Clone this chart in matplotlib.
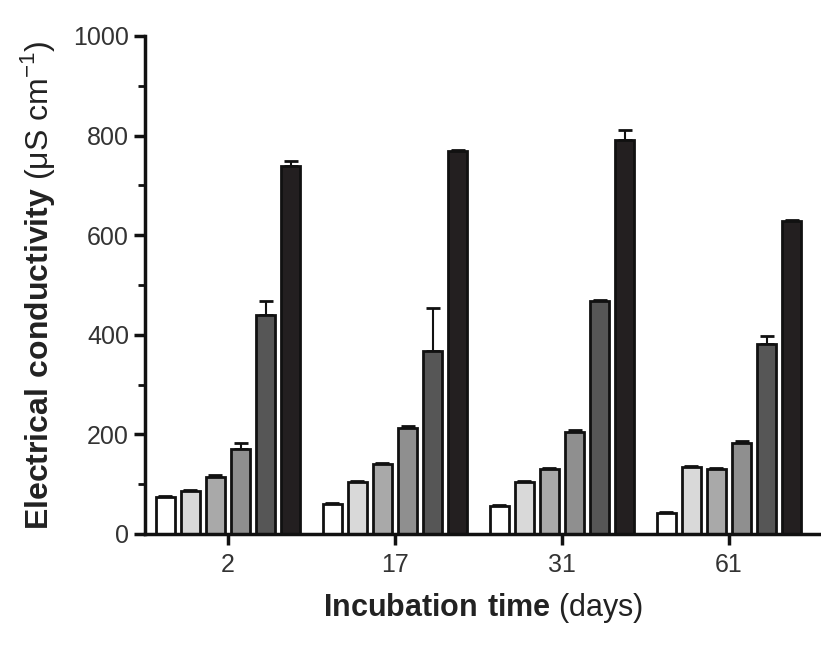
import numpy as np
import matplotlib
matplotlib.use("Agg")
import matplotlib.pyplot as plt
from matplotlib.ticker import MultipleLocator

plt.rcParams["font.family"] = ["Liberation Sans", "DejaVu Sans"]
plt.rcParams["mathtext.fontset"] = "custom"
plt.rcParams["mathtext.rm"] = "Liberation Sans"
plt.rcParams["mathtext.bf"] = "Liberation Sans:bold"

days = ["2", "17", "31", "61"]
# six treatments per incubation day (white -> black)
values = [
    [74, 86, 114, 170, 440, 738],
    [60, 105, 140, 213, 368, 768],
    [56, 105, 130, 205, 467, 792],
    [43, 134, 130, 183, 382, 628],
]
errors = [
    [2, 3, 4, 12, 28, 10],
    [3, 2, 3, 3, 86, 3],
    [3, 2, 2, 3, 3, 20],
    [2, 3, 2, 3, 16, 3],
]
colors = ["#ffffff", "#d9d9d9", "#a9a9a9", "#8f8f8f", "#565656", "#231f20"]

fig = plt.figure(figsize=(8.21, 6.46), dpi=100)
ax = fig.add_axes([0.1766, 0.1734, 0.8234, 0.771])

vals = np.array(values)
errs = np.array(errors)
x = np.arange(len(days))
step = 0.15
for i in range(6):
    pos = x + (i - 2.5) * step
    ax.bar(pos, vals[:, i], width=0.115, color=colors[i], edgecolor="#111111",
           linewidth=2, zorder=2)
    ax.errorbar(pos, vals[:, i], yerr=[np.zeros(len(days)), errs[:, i]],
                fmt="none", ecolor="#111111", elinewidth=1.5, capsize=5,
                capthick=2, zorder=1)

ax.set_xlim(-0.497, 3.551)
ax.set_ylim(0, 1000)
ax.yaxis.set_major_locator(MultipleLocator(200))
ax.yaxis.set_minor_locator(MultipleLocator(100))
ax.set_xticks(x)
ax.set_xticklabels(days)

for s in ["top", "right"]:
    ax.spines[s].set_visible(False)
for s in ["left", "bottom"]:
    ax.spines[s].set_linewidth(2.5)
    ax.spines[s].set_color("#111111")

ax.tick_params(axis="both", which="major", length=8, width=2.5,
               labelsize=18, colors="#111111", labelcolor="#333333")
ax.tick_params(axis="y", which="minor", length=5, width=2, colors="#111111")
ax.tick_params(axis="x", pad=6)

ax.set_ylabel(r"$\bf{Electrical\ conductivity}$ (μS cm$^{-1}$)",
              fontsize=23, color="#222222")
ax.yaxis.set_label_coords(-0.13, 0.5)
ax.set_xlabel(r"$\bf{Incubation\ time}$ (days)", fontsize=22,
              color="#222222")
ax.xaxis.set_label_coords(0.5, -0.115)

fig.savefig("out.png", dpi=100)
